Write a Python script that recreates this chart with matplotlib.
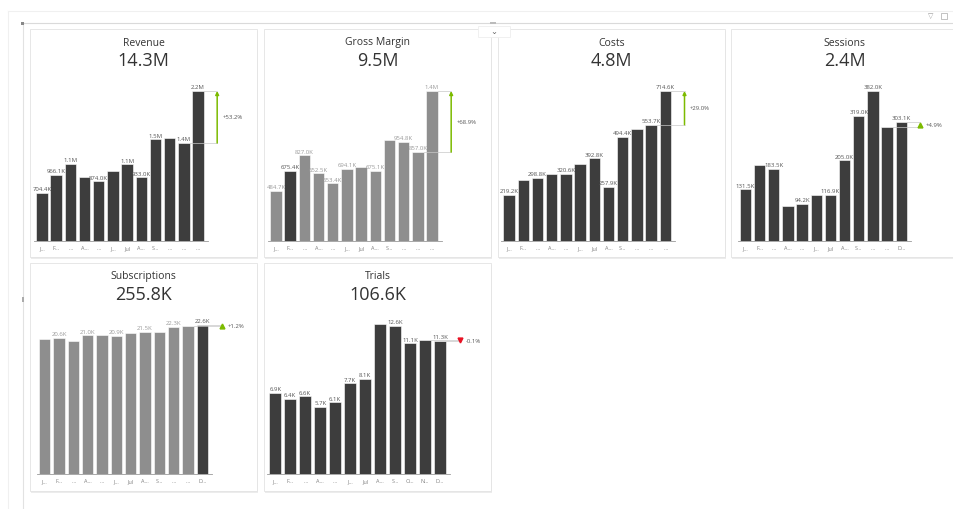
import numpy as np
import matplotlib.pyplot as plt
from matplotlib.patches import Rectangle
from matplotlib.lines import Line2D

plt.rcParams['font.family'] = ['Open Sans', 'DejaVu Sans']

W, H = 954, 510

# ---- data ----
titles = ["Revenue", "Gross Margin", "Costs", "Sessions", "Subscriptions", "Trials"]

ticks_a = ["J…", "F…", "…", "A…", "…", "J…", "Jul", "A…", "S…", "…", "…", "…"]
ticks_b = ["J…", "F…", "…", "A…", "…", "J…", "Jul", "A…", "S…", "…", "…", "D…"]
ticks_c = ["J…", "F…", "…", "A…", "…", "J…", "Jul", "A…", "S…", "O…", "N…", "D…"]

revenue = [704.4e3, 966.1e3, 1.13e6, 0.94e6, 874.0e3, 1.03e6, 1.12e6, 933.0e3, 1.49e6, 1.51e6, 1.436e6, 2.2e6]
gross_margin = [484.7e3, 675.4e3, 827.0e3, 652.5e3, 553.4e3, 694.1e3, 712e3, 675.1e3, 977e3, 954.8e3, 857.0e3, 1447.5e3]
costs = [219.2e3, 291e3, 298.8e3, 317e3, 320.6e3, 366e3, 392.8e3, 257.9e3, 494.4e3, 533e3, 553.74e3, 714.56e3]
sessions = [131.5e3, 193e3, 183.5e3, 89e3, 94.2e3, 116.6e3, 116.9e3, 205.0e3, 319.0e3, 382.0e3, 288.9e3, 303.1e3]
subscriptions = [20.5e3, 20.6e3, 20.2e3, 21.0e3, 21.0e3, 20.9e3, 21.4e3, 21.5e3, 21.45e3, 22.3e3, 22.33e3, 22.6e3]
trials = [6.9e3, 6.4e3, 6.6e3, 5.7e3, 6.1e3, 7.7e3, 8.1e3, 12.72e3, 12.6e3, 11.1e3, 11.355e3, 11.34e3]

# bars that carry a data label
shown_revenue = [0, 1, 2, 4, 6, 7, 8, 10, 11]
shown_gm = [0, 1, 2, 3, 4, 5, 7, 9, 10, 11]
shown_costs = [0, 2, 4, 6, 7, 8, 10, 11]
shown_sessions = [0, 2, 4, 6, 7, 8, 9, 11]
shown_subs = [1, 3, 5, 7, 9, 11]
shown_trials = [0, 1, 2, 3, 4, 5, 6, 8, 9, 11]

DARK = '#3d3d3d'
GRAY = '#8e8e8e'
GREEN = '#7cbb00'
RED = '#e81123'


def fmt(v):
    if abs(v) >= 1e6:
        return f"{v / 1e6:.1f}M"
    return f"{v / 1e3:.1f}K"


def rect_px(x, y, w, h, **kw):
    return Rectangle((x / W, 1 - (y + h) / H), w / W, h / H,
                     transform=fig.transFigure, **kw)


def line_px(xs, ys, **kw):
    return Line2D([x / W for x in xs], [1 - y / H for y in ys],
                  transform=fig.transFigure, **kw)


fig = plt.figure(figsize=(W / 100, H / 100), dpi=100)
fig.patch.set_facecolor('white')

# report frame
fig.add_artist(line_px([8, 954], [12, 12], color='#f0f0f0', lw=0.8, zorder=-5))
fig.add_artist(line_px([8, 8], [12, 510], color='#f0f0f0', lw=0.8, zorder=-5))
fig.add_artist(line_px([23, 954], [24, 24], color='#dadada', lw=0.8, zorder=-5))
fig.add_artist(line_px([23, 23], [24, 510], color='#e2e2e2', lw=0.8, zorder=-5))
fig.add_artist(rect_px(21.5, 22.5, 3, 3, facecolor='#888888', edgecolor='none', zorder=-4))
fig.add_artist(rect_px(22, 298, 2, 5, facecolor='#aaaaaa', edgecolor='none', zorder=-4))
fig.add_artist(rect_px(490, 22.5, 6, 2.5, facecolor='#bbbbbb', edgecolor='none', zorder=-4))
fig.add_artist(rect_px(478, 27, 32, 11, facecolor='white', edgecolor='#eeeeee', lw=0.6, zorder=3))
fig.text(494 / W, 1 - 32.5 / H, "⌄", fontsize=6, color='#666666', ha='center', va='center', zorder=4)
fig.text(931 / W, 1 - 17 / H, "▽", fontsize=5, color='#999999', ha='center', va='center')
fig.add_artist(rect_px(941, 14, 6, 6, facecolor='none', edgecolor='#aaaaaa', lw=0.5))

# cards
card_x = [30, 264, 498, 731]
card_y = [30, 264]
CW, CH = 227, 228
cards = [(card_x[0], card_y[0]), (card_x[1], card_y[0]), (card_x[2], card_y[0]),
         (card_x[3], card_y[0]), (card_x[0], card_y[1]), (card_x[1], card_y[1])]
for cx, cy in cards:
    fig.add_artist(rect_px(cx + 1, cy + 1.5, CW, CH, facecolor='#ececec', edgecolor='none', zorder=-3))
    fig.add_artist(rect_px(cx, cy, CW, CH, facecolor='white', edgecolor='#e3e3e3', lw=0.6, zorder=-2))

# plot areas in pixels: bar-left, bar-right, baseline, top of max bar
areas = [(36.3, 203.7, 241.7, 92), (270.3, 437.7, 241.7, 92), (503.3, 671, 241.7, 92),
         (739.7, 907, 241.7, 92), (39, 208, 475.3, 325.7), (269.3, 446, 475.3, 325.3)]

series = [revenue, gross_margin, costs, sessions, subscriptions, trials]
shown = [shown_revenue, shown_gm, shown_costs, shown_sessions, shown_subs, shown_trials]
ticks = [ticks_a, ticks_a, ticks_a, ticks_b, ticks_b, ticks_c]
highlight = [None, 1, None, None, 11, None]

for i, (vals, title) in enumerate(zip(series, titles)):
    cx, cy = cards[i]
    L, R, B, T = areas[i]
    slot = (R - L) / 11.8
    left_px = L - 0.15 * slot
    right_px = R + 0.3 * slot
    ax = fig.add_axes([left_px / W, 1 - B / H, (right_px - left_px) / W, (B - T) / H])
    ax.set_facecolor('none')
    ax.set_xlim(-0.55, 11.7)
    ax.set_ylim(0, max(vals))

    x = np.arange(len(vals))
    hl = highlight[i]
    if hl is None:
        colors = [DARK] * len(vals)
        lab_colors = ['#555555'] * len(vals)
    else:
        colors = [GRAY] * len(vals)
        colors[hl] = DARK
        lab_colors = ['#9a9a9a'] * len(vals)
        lab_colors[hl] = '#555555'
    ax.bar(x, vals, width=0.8, color=colors, edgecolor='white', linewidth=0.4)

    for k in shown[i]:
        ax.annotate(fmt(vals[k]), (x[k], vals[k]), xytext=(0, 1.2), textcoords='offset points',
                    ha='center', va='bottom', fontsize=4.3, color=lab_colors[k],
                    annotation_clip=False)

    for s in ['top', 'right', 'left']:
        ax.spines[s].set_visible(False)
    ax.spines['bottom'].set_color('#9a9a9a')
    ax.spines['bottom'].set_linewidth(0.6)
    ax.set_yticks([])
    ax.set_xticks(x, ticks[i])
    ax.tick_params(axis='x', length=0, pad=3, labelsize=4, labelcolor='#808080')

    # variance Nov -> Dec
    nov, dec = vals[-2], vals[-1]
    pct = (dec / nov - 1) * 100
    xa = 12.35
    ax.plot([10.4, xa], [nov, nov], color='#c8c8c8', lw=0.5, clip_on=False)
    ax.plot([11.4, xa], [dec, dec], color='#c8c8c8', lw=0.5, clip_on=False)
    ymid = (nov + dec) / 2
    if abs(pct) >= 10:
        ax.annotate('', xy=(xa, dec), xytext=(xa, nov),
                    arrowprops=dict(arrowstyle='-|>', color=GREEN, lw=1.1,
                                    mutation_scale=5, shrinkA=0, shrinkB=0),
                    annotation_clip=False)
    else:
        ax.plot([xa], [ymid], marker='^' if pct >= 0 else 'v', ms=3.5,
                color=GREEN if pct >= 0 else RED, clip_on=False, lw=0)
    ax.text(xa + 0.4, ymid, f"{pct:+.1f}%", fontsize=4.3, color='#555555',
            ha='left', va='center', clip_on=False)

    # card title and total
    fig.text((cx + CW / 2) / W, 1 - (cy + 13) / H, title, fontsize=7.5, color='#333333',
             ha='center', va='center')
    fig.text((cx + CW / 2) / W, 1 - (cy + 31) / H, fmt(sum(vals)), fontsize=13, color='#333333',
             ha='center', va='center')

fig.savefig('out.png', dpi=100, facecolor='white')
